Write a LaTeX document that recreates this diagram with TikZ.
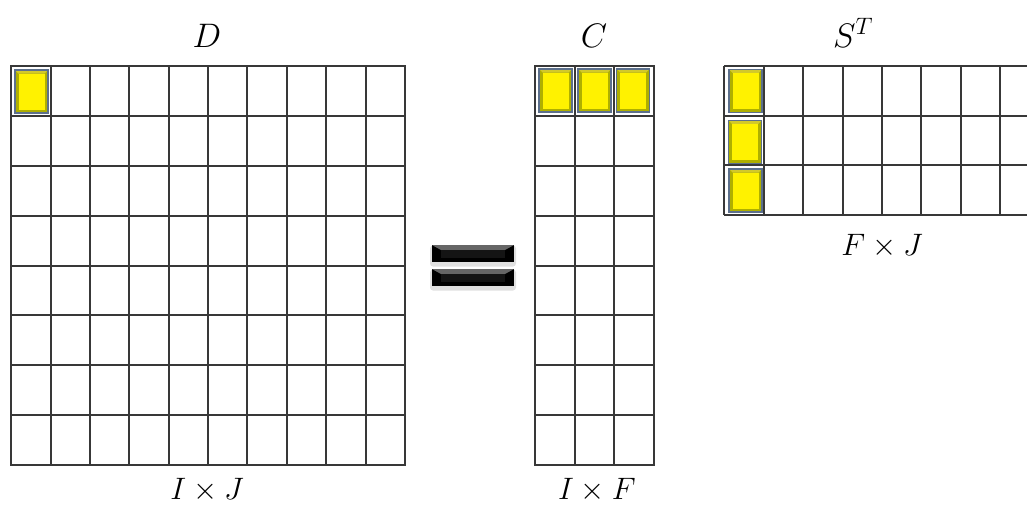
\RequirePackage{fix-cm}
\documentclass[tikz,border=0pt]{standalone}
\usetikzlibrary{calc}
\definecolor{markframe}{RGB}{92,112,140}
\definecolor{markedge}{RGB}{175,175,0}
\begin{document}
\begin{tikzpicture}[x=1pt,y=-1pt,
  gridline/.style={line width=1.8pt, draw=black!78},
  cellmark/.style={draw=markframe, line width=1.3pt, fill=yellow,
    minimum width=33pt, minimum height=43pt, inner sep=0pt,
    path picture={
      \fill[markedge] (path picture bounding box.south west) rectangle (path picture bounding box.north east);
      \fill[yellow!80!black]
        (path picture bounding box.north west) -- (path picture bounding box.north east)
        -- ($(path picture bounding box.north east)+(-3.5pt,-3.5pt)$)
        -- ($(path picture bounding box.north west)+(3.5pt,-3.5pt)$) -- cycle;
      \fill[yellow] ($(path picture bounding box.south west)+(3.5pt,3.5pt)$) rectangle ($(path picture bounding box.north east)+(-3.5pt,-3.5pt)$);
    }},
  eqbar/.style={fill=black, minimum width=82pt, minimum height=17pt, inner sep=0pt,
    path picture={
      \fill[black!60]
        (path picture bounding box.north west) -- (path picture bounding box.north east)
        -- ($(path picture bounding box.north east)+(-9pt,-5pt)$)
        -- ($(path picture bounding box.north west)+(9pt,-5pt)$) -- cycle;
      \fill[black!92]
        ($(path picture bounding box.north west)+(9pt,-5pt)$) rectangle ($(path picture bounding box.south east)+(-9pt,4pt)$);
    }},
  eqshadow/.style={fill=black, opacity=0.12, minimum width=86pt, minimum height=21pt, inner sep=0pt, rounded corners=3pt},
  title/.style={font=\fontsize{34}{38}\selectfont, anchor=base, inner sep=0pt},
  dims/.style={font=\fontsize{31}{34}\selectfont, anchor=base, inner sep=0pt}
]
\clip (0,0) rectangle (1027,506);
\fill[white] (0,0) rectangle (1027,506);

% D: 8 x 10 grid
\foreach \x in {11,51,90,129,169,208,247,287,326,366,405} \draw[gridline] (\x,66) -- (\x,465);
\foreach \y in {66,116,166,216,266,315,365,415,465} \draw[gridline] (11,\y) -- (405,\y);
\draw[gridline] (11,66) rectangle (405,465);

% C: 8 x 3 grid
\foreach \x in {535,575,614,654} \draw[gridline] (\x,66) -- (\x,465);
\foreach \y in {66,116,166,216,266,315,365,415,465} \draw[gridline] (535,\y) -- (654,\y);
\draw[gridline] (535,66) rectangle (654,465);

% S^T: 3 rows, running past the right edge
\foreach \x in {724,764,803,843,882,921,961,1000,1040} \draw[gridline] (\x,66) -- (\x,215);
\foreach \y in {66,116,165,215} \draw[gridline] (724,\y) -- (1044,\y);

% highlighted entries
\node[cellmark] (dY) at (31.5,91.5) {};
\node[cellmark] (cY1) at (555.5,90.5) {};
\node[cellmark] (cY2) at (594.5,90.5) {};
\node[cellmark] (cY3) at (633,90.5) {};
\node[cellmark] (sY1) at (745.5,91) {};
\node[cellmark] (sY2) at (745,142) {};
\node[cellmark] (sY3) at (745.5,190.5) {};

% equals sign
\node[eqshadow] (eqTopShadow) at (473,256) {};
\node[eqshadow] (eqBotShadow) at (473,280) {};
\node[eqbar] (eqTop) at (473,253.5) {};
\node[eqbar] (eqBot) at (473,277.5) {};

% titles
\node[title] (tD) at (207,47) {$D$};
\node[title] (tC) at (594,47) {$C$};
\node[title] (tS) at (853,47) {$S^T$};

% dimensions
\node[dims] (nD) at (207,499) {$I\times J$};
\node[dims] (nC) at (597,499) {$I\times F$};
\node[dims] (nS) at (882,255) {$F\times J$};
\end{tikzpicture}
\end{document}
